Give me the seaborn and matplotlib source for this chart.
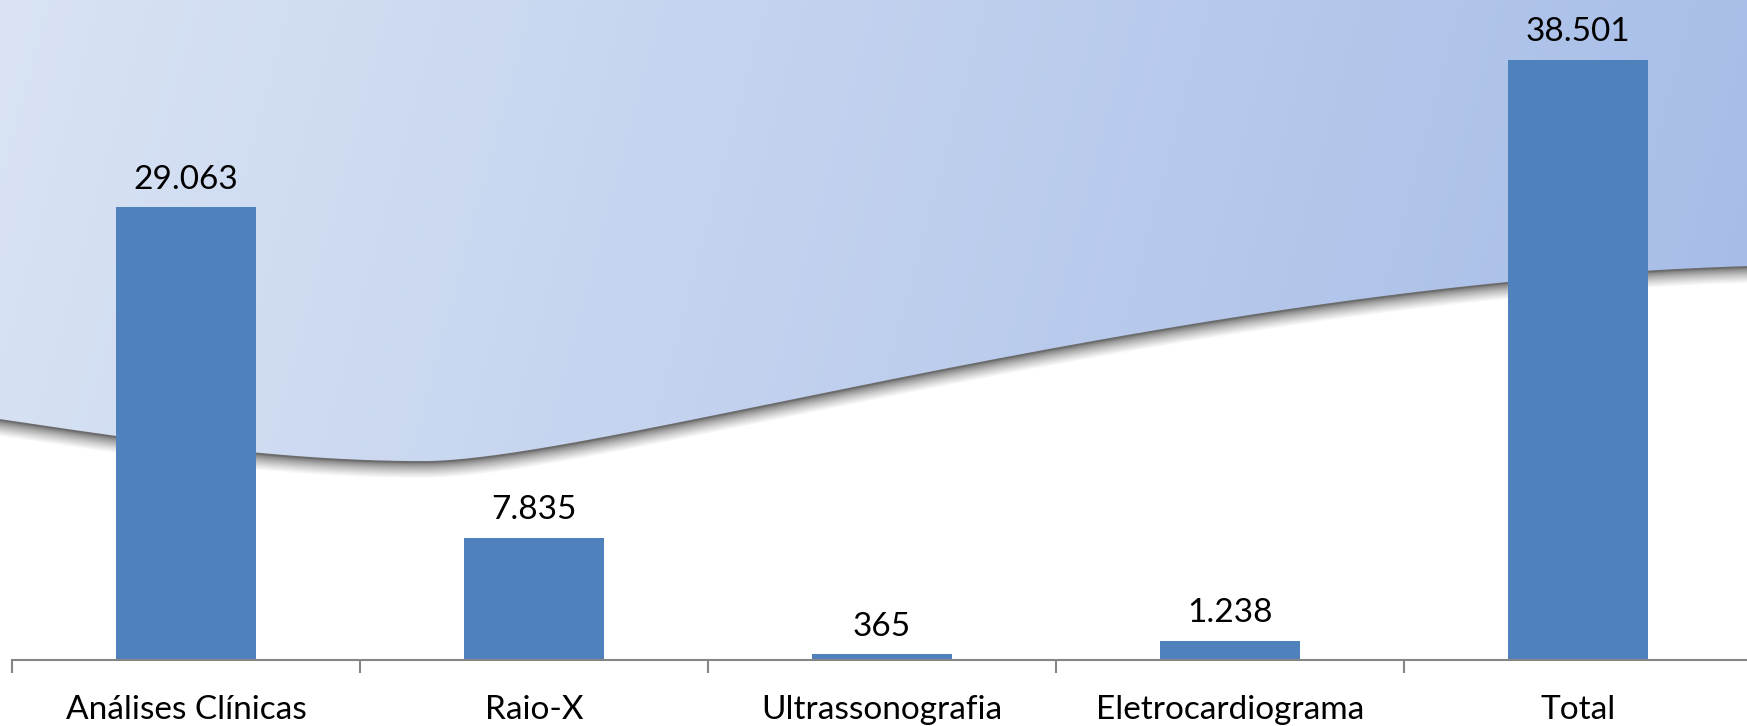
import numpy as np
import matplotlib
matplotlib.use("Agg")
import matplotlib.pyplot as plt
from matplotlib.path import Path
from matplotlib.patches import PathPatch
import seaborn as sns

# dados do gráfico
categorias = ["Análises Clínicas", "Raio-X", "Ultrassonografia", "Eletrocardiograma", "Total"]
exames = [29063, 7835, 365, 1238, 38501]

cor_barra = "#4F81BD"
cor_eixo = "#868686"

sns.set_style("white")
plt.rcParams["font.family"] = ["Lato", "DejaVu Sans"]

W, H = 1747, 726
fig = plt.figure(figsize=(W / 100, H / 100), dpi=100)
fig.patch.set_facecolor("white")

# fundo decorativo (onda com degradê)
bg = fig.add_axes([0, 0, 1, 1], zorder=0)
bg.set_xlim(0, W)
bg.set_ylim(H, 0)
bg.axis("off")


def bezier(p0, p1, p2, p3, n=200):
    t = np.linspace(0, 1, n)[:, None]
    return ((1 - t) ** 3) * p0 + 3 * ((1 - t) ** 2) * t * p1 + 3 * (1 - t) * t ** 2 * p2 + t ** 3 * p3


seg1 = [np.array(p) for p in [(0, 420), (141, 441), (282, 462), (423, 462)]]
seg2 = [np.array(p) for p in [(423, 462), (600, 462), (1180, 284), (W, 267)]]
curva = np.vstack([bezier(*seg1), bezier(*seg2)])

# sombra abaixo da curva
n_sombra = 17
for d in reversed(range(0, n_sombra)):
    g = 0.42 + 0.58 * (d / (n_sombra - 1)) ** 0.7
    bg.plot(curva[:, 0], curva[:, 1] + d, color=(g, g, g), lw=1.3, solid_capstyle="butt")

verts = list(curva) + [(W, 0), (0, 0), (0, 420)]
codes = [Path.MOVETO] + [Path.LINETO] * (len(curva) - 1) + [Path.LINETO, Path.LINETO, Path.CLOSEPOLY]
onda = PathPatch(Path(verts, codes), facecolor="none", edgecolor="none", transform=bg.transData)
bg.add_patch(onda)

xx, yy = np.meshgrid(np.linspace(0, 1, 400), np.linspace(0, 1, 200))
t = np.clip(0.9 * xx + 0.1 * yy, 0, 1)[..., None]
c0 = np.array([217, 227, 244]) / 255
c1 = np.array([164, 187, 231]) / 255
grad = c0 + (c1 - c0) * t
img = bg.imshow(grad, extent=(0, W, H, 0), aspect="auto", interpolation="bilinear")
img.set_clip_path(onda)

# gráfico de barras
ax = fig.add_axes([12 / W, 66 / H, 1740 / W, 660 / H], zorder=2)
ax.set_facecolor("none")
sns.barplot(x=categorias, y=exames, color=cor_barra, saturation=1, width=0.4,
            linewidth=0, ax=ax)
ax.set_xlim(-0.5, 4.5)
ax.set_ylim(0, 42350)

ax.bar_label(ax.containers[0], labels=[f"{v:,}".replace(",", ".") for v in exames],
             padding=9, fontsize=24, color="black")

sns.despine(ax=ax, left=True)
ax.spines["bottom"].set_color(cor_eixo)
ax.spines["bottom"].set_linewidth(1.5)
ax.set_yticks([])
ax.set_xticks(np.arange(-0.5, 5, 1), minor=True)
ax.tick_params(axis="x", which="major", length=0, pad=25, labelsize=24, labelcolor="black")
ax.tick_params(axis="x", which="minor", bottom=True, length=9, width=1.5,
               color=cor_eixo, direction="out")
ax.set_xlabel("")
ax.set_ylabel("")

fig.savefig("out.png", dpi=100)
